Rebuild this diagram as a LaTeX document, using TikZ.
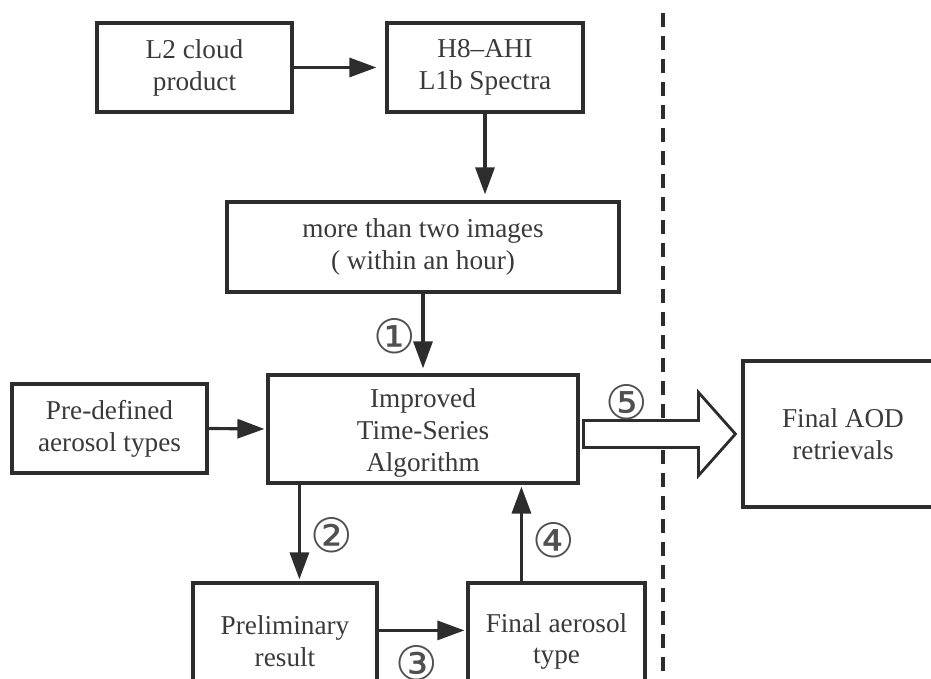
\documentclass[tikz,border=0pt]{standalone}
\usepackage{fontspec}
\setmainfont{Liberation Serif}
\newfontfamily\circfont{DejaVu Sans}
\usetikzlibrary{arrows.meta,calc}
\definecolor{inkline}{RGB}{45,45,45}
\definecolor{inktext}{RGB}{58,58,58}
\definecolor{inknum}{RGB}{80,80,80}

\begin{document}
\begin{tikzpicture}
	\tikzstyle{every node}=[font=\fontsize{15.5pt}{18.2pt}\selectfont, text=inktext]
	\tikzstyle{box}=[draw=inkline, line width=1.8pt, fill=white, align=center, inner sep=0pt]
	\tikzstyle{flow}=[draw=inkline, line width=1.8pt, -{Triangle[length=0.54cm, width=0.38cm]}, shorten >=0.04cm]
	\tikzstyle{num}=[font=\circfont\fontsize{27pt}{27pt}\selectfont, inner sep=0pt, text=inknum]
	\tikzstyle{fatarrow}=[draw=inkline, line width=1.6pt, fill=white, line join=miter]
	
	\useasboundingbox (0,0) rectangle (18.62,13.58);
	
	% divider
	\draw[color=inkline, line width=2pt, dash pattern=on 0.28cm off 0.18cm] (13.26,13.32) -- (13.26,-0.2);
	
	% boxes
	\node[box, minimum width=3.9cm, minimum height=1.78cm] (cloud) at (3.89,12.23) {L2 cloud\\product};
	\node[box, minimum width=3.92cm, minimum height=1.78cm] (spectra) at (9.70,12.23) {H8–AHI\\L1b Spectra};
	\node[box, minimum width=7.84cm, minimum height=1.80cm] (images) at (8.46,8.64) {more than two images\\( within an hour)};
	\node[box, minimum width=6.2cm, minimum height=2.16cm] (algo) at (8.46,5.00) {\\[-0.1cm]Improved\\Time-Series\\Algorithm};
	\node[box, minimum width=3.9cm, minimum height=1.78cm] (predef) at (2.19,5.01) {Pre-defined\\aerosol types};
	\node[box, minimum width=4.0cm, minimum height=2.92cm] (aod) at (16.86,4.90) {Final AOD\\retrievals};
	\node[box, minimum width=3.68cm, minimum height=2.34cm] (prelim) at (5.70,0.75) {Preliminary\\result};
	\node[box, minimum width=3.54cm, minimum height=2.34cm] (ftype) at (11.13,0.75) {Final aerosol\\type};
	
	% arrows
	\draw[flow, shorten >=0.18cm] (cloud.east) -- (spectra.west);
	\draw[flow, shorten >=0.12cm] (spectra.south) -- (spectra.south |- images.north);
	\draw[flow, shorten >=0.1cm] (images.south) -- (algo.north)
	node[num, pos=0.54, xshift=-0.56cm] (n1) {①};
	\draw[flow] (predef.east) -- (algo.west);
	\draw[flow] ([xshift=0.66cm]algo.south west) -- ([xshift=0.66cm]algo.south west |- prelim.north)
	node[num, pos=0.52, xshift=0.64cm] (n2) {②};
	\draw[flow] ([yshift=-0.98cm]prelim.north east) -- ([yshift=-0.98cm]prelim.north east -| ftype.west)
	node[num, pos=0.44, yshift=-0.66cm] (n3) {③};
	\draw[flow] ([xshift=1.1cm]ftype.north west) -- ([xshift=1.1cm]ftype.north west |- algo.south)
	node[num, pos=0.43, xshift=0.64cm] (n4) {④};
	
	% output arrow
	\coordinate (s5) at (algo.east |- aod.west);
	\draw[fatarrow] ($(s5)+(0.08,0.27)$) -- ($(s5)+(2.38,0.27)$) -- ($(s5)+(2.38,0.83)$) -- ($(aod.west)+(-0.12,0)$)
	-- ($(s5)+(2.38,-0.83)$) -- ($(s5)+(2.38,-0.27)$) -- ($(s5)+(0.08,-0.27)$) -- cycle;
	\node[num] (n5) at ($(s5)+(0.94,0.64)$) {⑤};
	
\end{tikzpicture}
\end{document}
